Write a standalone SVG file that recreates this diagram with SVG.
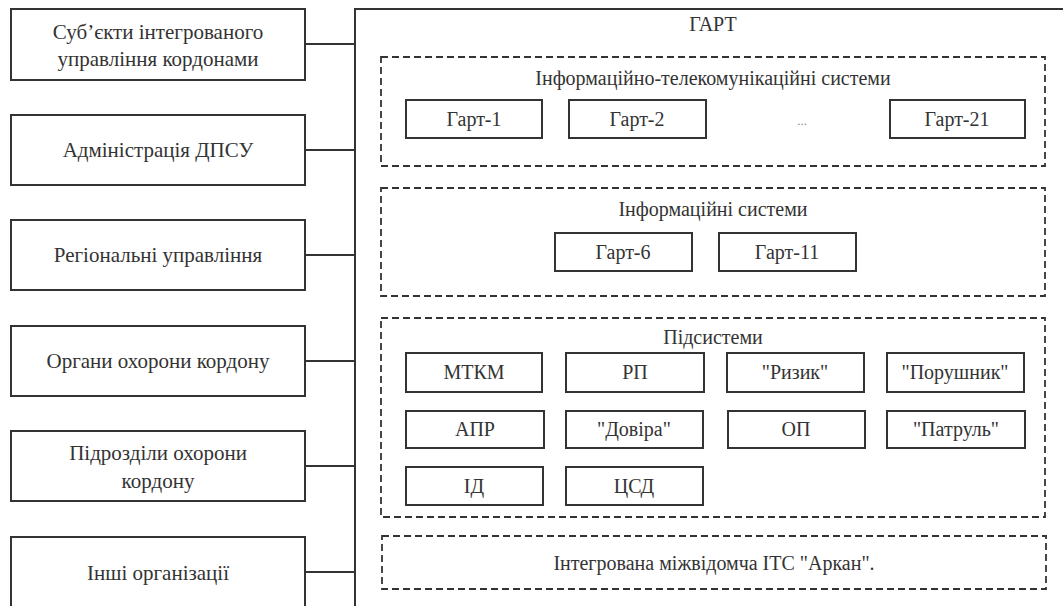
<svg xmlns="http://www.w3.org/2000/svg" width="1063" height="606" viewBox="0 0 1063 606">
<style>
.box{fill:#fff;stroke:#333;stroke-width:2}
.dash{fill:none;stroke:#333;stroke-width:1.8;stroke-dasharray:7 4}
.ln{stroke:#333;stroke-width:2;fill:none}
text{font-family:'Liberation Serif','Times New Roman','DejaVu Serif',serif;fill:#333;text-anchor:middle}
.l{font-size:21px}
.s{font-size:20px}
</style>
<rect width="1063" height="606" fill="#fff"/>
<g id="garth">
<rect class="box" x="355" y="9" width="730" height="620"/>
<text class="s" x="713" y="31">ГАРТ</text>
</g>
<g id="connectors">
<line class="ln" x1="305" y1="44" x2="355" y2="44"/>
<line class="ln" x1="305" y1="150" x2="355" y2="150"/>
<line class="ln" x1="305" y1="255" x2="355" y2="255"/>
<line class="ln" x1="305" y1="361" x2="355" y2="361"/>
<line class="ln" x1="305" y1="466" x2="355" y2="466"/>
<line class="ln" x1="305" y1="572" x2="355" y2="572"/>
</g>
<g id="n1"><rect class="box" x="11" y="9" width="294" height="71"/><text class="l" x="158" y="39">Суб’єкти інтегрованого</text><text class="l" x="158" y="66">управління кордонами</text></g>
<g id="n2"><rect class="box" x="11" y="115" width="294" height="70"/><text class="l" x="158" y="157">Адміністрація ДПСУ</text></g>
<g id="n3"><rect class="box" x="11" y="220" width="294" height="70"/><text class="l" x="158" y="262">Регіональні управління</text></g>
<g id="n4"><rect class="box" x="11" y="326" width="294" height="70"/><text class="l" x="158" y="368">Органи охорони кордону</text></g>
<g id="n5"><rect class="box" x="11" y="431" width="294" height="70"/><text class="l" x="158" y="460">Підрозділи охорони</text><text class="l" x="158" y="488">кордону</text></g>
<g id="n6"><rect class="box" x="11" y="537" width="294" height="72"/><text class="l" x="158" y="580">Інші організації</text></g>
<g id="its">
<rect class="dash" x="381" y="57" width="664" height="109"/>
<text class="s" x="713" y="85">Інформаційно-телекомунікаційні системи</text>
</g>
<g id="g1"><rect class="box" x="406" y="100" width="136" height="38"/><text class="s" x="474" y="126">Гарт-1</text></g>
<g id="g2"><rect class="box" x="569" y="100" width="137" height="38"/><text class="s" x="637" y="126">Гарт-2</text></g>
<g id="dots"><text x="802" y="125" style="font-size:13px;fill:#888">...</text></g>
<g id="g21"><rect class="box" x="890" y="100" width="135" height="38"/><text class="s" x="957" y="126">Гарт-21</text></g>
<g id="is">
<rect class="dash" x="381" y="188" width="664" height="108"/>
<text class="s" x="713" y="216">Інформаційні системи</text>
</g>
<g id="g6"><rect class="box" x="555" y="233" width="137" height="38"/><text class="s" x="623" y="259">Гарт-6</text></g>
<g id="g11"><rect class="box" x="719" y="233" width="137" height="38"/><text class="s" x="787" y="259">Гарт-11</text></g>
<g id="sub">
<rect class="dash" x="381" y="318" width="664" height="199"/>
<text class="s" x="713" y="344">Підсистеми</text>
</g>
<g id="mtkm"><rect class="box" x="406" y="353" width="136" height="39"/><text class="s" x="474" y="379">МТКМ</text></g>
<g id="rp"><rect class="box" x="566" y="353" width="138" height="39"/><text class="s" x="635" y="379">РП</text></g>
<g id="ryzyk"><rect class="box" x="727" y="353" width="137" height="39"/><text class="s" x="795" y="379">"Ризик"</text></g>
<g id="porushnyk"><rect class="box" x="887" y="353" width="137" height="39"/><text class="s" x="955" y="379">"Порушник"</text></g>
<g id="apr"><rect class="box" x="406" y="411" width="138" height="37"/><text class="s" x="475" y="436">АПР</text></g>
<g id="dovira"><rect class="box" x="566" y="411" width="137" height="37"/><text class="s" x="634" y="436">"Довіра"</text></g>
<g id="op"><rect class="box" x="728" y="411" width="137" height="37"/><text class="s" x="796" y="436">ОП</text></g>
<g id="patrul"><rect class="box" x="887" y="411" width="138" height="37"/><text class="s" x="956" y="436">"Патруль"</text></g>
<g id="id"><rect class="box" x="406" y="467" width="137" height="38"/><text class="s" x="474" y="493">ІД</text></g>
<g id="csd"><rect class="box" x="566" y="467" width="137" height="38"/><text class="s" x="634" y="493">ЦСД</text></g>
<g id="arkan">
<rect class="dash" x="382" y="536" width="664" height="53"/>
<text class="s" x="714" y="570">Інтегрована міжвідомча ІТС "Аркан".</text>
</g>
</svg>
